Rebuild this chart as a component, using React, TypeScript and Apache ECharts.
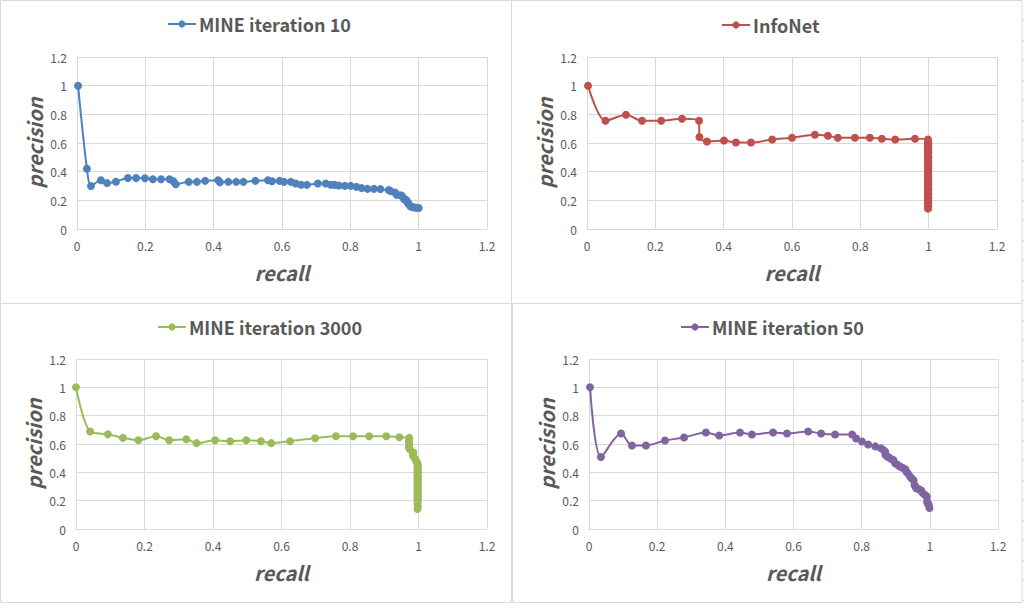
import React, { useEffect, useRef } from "react";
import * as echarts from "echarts";

// ---------- DATA ----------
const axisTicks = [0, 0.2, 0.4, 0.6, 0.8, 1, 1.2];

const seriesNames = ["MINE iteration 10", "InfoNet", "MINE iteration 3000", "MINE iteration 50"];
const seriesColors = ["#4F81BD", "#C0504D", "#9BBB59", "#8064A2"];

const mine10Recall = [
  0.003, 0.029, 0.041, 0.07, 0.088, 0.114, 0.149, 0.173, 0.199, 0.222, 0.246, 0.271, 0.282, 0.289,
  0.327, 0.351, 0.375, 0.413, 0.418, 0.443, 0.466, 0.487, 0.522, 0.559, 0.571, 0.593, 0.606, 0.626,
  0.64, 0.656, 0.673, 0.705, 0.728, 0.743, 0.754, 0.766, 0.784, 0.801, 0.818, 0.833, 0.85, 0.869,
  0.888, 0.912, 0.918, 0.931, 0.936, 0.946, 0.951, 0.957, 0.962, 0.965, 0.968, 0.97, 0.974, 0.977,
  0.983, 0.989, 0.995, 1.0,
];
const mine10Precision = [
  1.0, 0.42, 0.3, 0.34, 0.32, 0.33, 0.356, 0.356, 0.354, 0.347, 0.347, 0.347, 0.333, 0.312,
  0.329, 0.329, 0.336, 0.34, 0.326, 0.329, 0.329, 0.329, 0.336, 0.34, 0.333, 0.336, 0.329, 0.329,
  0.317, 0.308, 0.308, 0.317, 0.317, 0.308, 0.308, 0.303, 0.301, 0.301, 0.294, 0.285, 0.28, 0.28,
  0.278, 0.271, 0.264, 0.255, 0.238, 0.236, 0.231, 0.208, 0.205, 0.197, 0.185, 0.174, 0.165, 0.157,
  0.152, 0.15, 0.148, 0.146,
];

const infoNetRecall = [
  0.003, 0.054, 0.114, 0.161, 0.217, 0.278, 0.328, 0.329, 0.351, 0.401, 0.436, 0.48, 0.542, 0.6,
  0.667, 0.705, 0.734, 0.784, 0.828, 0.863, 0.902, 0.96, 0.998, 0.998, 0.999, 0.998, 0.999, 0.998,
  0.999, 0.998, 0.998, 0.999, 0.998, 0.998, 0.999, 0.998, 0.998, 0.999, 0.998, 0.998, 0.999, 0.998,
  0.998, 0.999, 0.998, 0.998, 0.998, 0.999, 0.998, 0.998, 0.999, 0.998, 0.998, 0.999, 0.998, 0.998,
  0.999, 0.998, 0.998, 0.999, 0.998, 0.998, 0.999, 0.998, 0.998, 0.999, 0.998, 0.998, 0.999, 0.998,
  0.998,
];
const infoNetPrecision = [
  1.0, 0.755, 0.797, 0.755, 0.755, 0.769, 0.755, 0.642, 0.61, 0.617, 0.603, 0.603, 0.624, 0.637,
  0.658, 0.651, 0.637, 0.637, 0.637, 0.63, 0.624, 0.63, 0.624, 0.61, 0.6, 0.59, 0.58, 0.57,
  0.56, 0.55, 0.54, 0.53, 0.52, 0.51, 0.5, 0.49, 0.48, 0.47, 0.46, 0.45, 0.44, 0.43,
  0.42, 0.41, 0.4, 0.39, 0.38, 0.37, 0.36, 0.35, 0.34, 0.33, 0.32, 0.31, 0.3, 0.29,
  0.28, 0.27, 0.26, 0.25, 0.24, 0.23, 0.22, 0.21, 0.2, 0.19, 0.18, 0.17, 0.16, 0.15,
  0.142,
];

const mine3000Recall = [
  0.0, 0.041, 0.093, 0.137, 0.182, 0.234, 0.272, 0.322, 0.352, 0.406, 0.45, 0.497, 0.54, 0.57,
  0.625, 0.698, 0.759, 0.809, 0.856, 0.906, 0.944, 0.973, 0.972, 0.973, 0.972, 0.974, 0.985, 0.983,
  0.986, 0.992, 0.994, 0.997, 0.997, 0.998, 0.997, 0.998, 0.997, 0.998, 0.997, 0.998, 0.997, 0.998,
  0.997, 0.998, 0.997, 0.998, 0.997, 0.998, 0.997, 0.998, 0.997, 0.998, 0.997, 0.998, 0.997, 0.998,
  0.997, 0.998, 0.997, 0.998, 0.997,
];
const mine3000Precision = [
  1.0, 0.688, 0.669, 0.643, 0.627, 0.655, 0.627, 0.634, 0.606, 0.627, 0.62, 0.627, 0.62, 0.606,
  0.62, 0.641, 0.655, 0.655, 0.655, 0.655, 0.648, 0.643, 0.62, 0.6, 0.58, 0.565, 0.54, 0.525,
  0.51, 0.488, 0.475, 0.465, 0.45, 0.44, 0.43, 0.42, 0.41, 0.4, 0.39, 0.38, 0.37, 0.36,
  0.35, 0.34, 0.33, 0.32, 0.31, 0.3, 0.29, 0.28, 0.27, 0.26, 0.25, 0.24, 0.23, 0.22,
  0.21, 0.2, 0.18, 0.16, 0.141,
];

const mine50Recall = [
  0.003, 0.035, 0.094, 0.126, 0.167, 0.223, 0.279, 0.343, 0.382, 0.443, 0.478, 0.54, 0.581, 0.643,
  0.681, 0.722, 0.772, 0.784, 0.801, 0.819, 0.84, 0.857, 0.865, 0.869, 0.87, 0.875, 0.879, 0.886,
  0.893, 0.898, 0.906, 0.913, 0.92, 0.928, 0.931, 0.935, 0.942, 0.947, 0.952, 0.955, 0.958, 0.96,
  0.968, 0.975, 0.979, 0.986, 0.991, 0.992, 0.994, 0.997, 0.999,
];
const mine50Precision = [
  1.0, 0.508, 0.674, 0.59, 0.59, 0.625, 0.646, 0.681, 0.66, 0.681, 0.667, 0.681, 0.674, 0.688,
  0.674, 0.667, 0.667, 0.639, 0.618, 0.597, 0.583, 0.569, 0.555, 0.546, 0.522, 0.512, 0.506, 0.495,
  0.487, 0.464, 0.452, 0.44, 0.432, 0.422, 0.405, 0.393, 0.37, 0.356, 0.344, 0.311, 0.3, 0.288,
  0.28, 0.272, 0.253, 0.24, 0.23, 0.194, 0.18, 0.171, 0.148,
];

const recalls = [mine10Recall, infoNetRecall, mine3000Recall, mine50Recall];
const precisions = [mine10Precision, infoNetPrecision, mine3000Precision, mine50Precision];

// ---------- LAYOUT ----------
const grids = [
  { left: 77, top: 57, width: 410, height: 172 },
  { left: 587, top: 57, width: 410, height: 172 },
  { left: 76, top: 359, width: 411, height: 170 },
  { left: 589, top: 359, width: 409, height: 170 },
];
const legendPos = [
  { left: 167, top: 15 },
  { left: 721, top: 16 },
  { left: 157, top: 318 },
  { left: 680, top: 318 },
];

const TEXT = "#595959";
const GRIDLINE = "#d9d9d9";
const FONT = "'Noto Sans CJK SC', 'Noto Sans', sans-serif";

export default function App() {
  const ref = useRef<HTMLDivElement>(null);

  useEffect(() => {
    if (!ref.current) return;
    const chart = echarts.init(ref.current, null, { renderer: "svg" });

    const axisCommon = (idx: number, name: string) => ({
      type: "value",
      gridIndex: idx,
      min: axisTicks[0],
      max: axisTicks[axisTicks.length - 1],
      interval: axisTicks[1] - axisTicks[0],
      name,
      nameLocation: "middle",
      nameGap: 33,
      nameTextStyle: {
        fontSize: 20,
        fontWeight: "bold",
        fontStyle: "italic",
        color: TEXT,
        fontFamily: FONT,
      },
      axisLine: { show: true, lineStyle: { color: GRIDLINE, width: 1 } },
      axisTick: { show: false },
      axisLabel: { color: TEXT, fontSize: 12, margin: 10, fontFamily: FONT },
      splitLine: { show: true, lineStyle: { color: GRIDLINE, width: 1 } },
    });

    const decorations: any[] = [
      { type: "rect", shape: { x: 0.5, y: 0.5, width: 511, height: 303 }, style: { fill: "none", stroke: GRIDLINE, lineWidth: 1 }, silent: true },
      { type: "rect", shape: { x: 511.5, y: 0.5, width: 510.5, height: 303 }, style: { fill: "none", stroke: GRIDLINE, lineWidth: 1 }, silent: true },
      { type: "rect", shape: { x: 0.5, y: 303.5, width: 511, height: 299 }, style: { fill: "none", stroke: GRIDLINE, lineWidth: 1 }, silent: true },
      { type: "rect", shape: { x: 512.5, y: 303.5, width: 509.5, height: 299 }, style: { fill: "none", stroke: GRIDLINE, lineWidth: 1 }, silent: true },
    ];
    for (let y = 20.5; y < 604; y += 20) {
      decorations.push({
        type: "line",
        shape: { x1: 1022, y1: y, x2: 1024, y2: y },
        style: { stroke: GRIDLINE, lineWidth: 1 },
        silent: true,
      });
    }

    const option: any = {
      animation: false,
      backgroundColor: "#ffffff",
      textStyle: { fontFamily: FONT },
      grid: grids.map((g) => ({ ...g, containLabel: false })),
      xAxis: grids.map((_, i) => axisCommon(i, "recall")),
      yAxis: grids.map((_, i) => axisCommon(i, "precision")),
      legend: seriesNames.map((n, i) => ({
        data: [n],
        left: legendPos[i].left,
        top: legendPos[i].top,
        itemWidth: 28,
        itemHeight: 9,
        textStyle: { fontSize: 18, fontWeight: "bold", color: TEXT, fontFamily: FONT, padding: [0, 0, 0, -2] },
        padding: 0,
        selectedMode: false,
      })),
      series: seriesNames.map((n, i) => ({
        name: n,
        type: "line",
        xAxisIndex: i,
        yAxisIndex: i,
        data: recalls[i].map((r, k) => [r, precisions[i][k]]),
        smooth: 0.3,
        symbol: "circle",
        symbolSize: 8,
        showSymbol: true,
        color: seriesColors[i],
        lineStyle: { width: 2, color: seriesColors[i] },
        itemStyle: { color: seriesColors[i] },
      })),
      graphic: decorations,
    };

    chart.setOption(option);
    return () => chart.dispose();
  }, []);

  return (
    <div
      ref={ref}
      style={{ position: "absolute", left: 0, top: 0, width: 1024, height: 604, background: "#fff" }}
    />
  );
}
